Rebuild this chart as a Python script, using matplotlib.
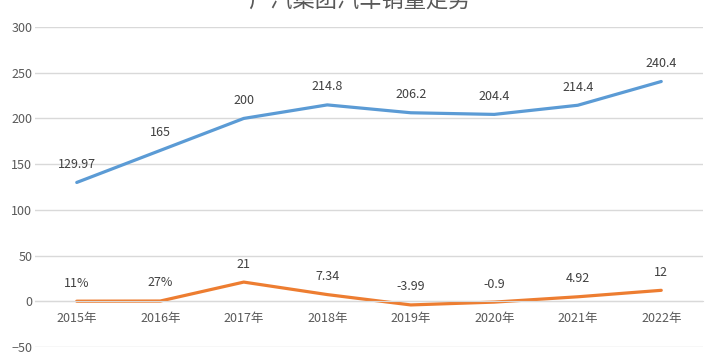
import matplotlib.pyplot as plt

plt.rcParams['font.family'] = ['Noto Sans CJK SC', 'DejaVu Sans']

# data
years = ['2015年', '2016年', '2017年', '2018年', '2019年', '2020年', '2021年', '2022年']
sales = [129.97, 165, 200, 214.8, 206.2, 204.4, 214.4, 240.4]
growth = [0.11, 0.27, 21, 7.34, -3.99, -0.9, 4.92, 12]
sales_labels = ['129.97', '165', '200', '214.8', '206.2', '204.4', '214.4', '240.4']
growth_labels = ['11%', '27%', '21', '7.34', '-3.99', '-0.9', '4.92', '12']
title = '广汽集团汽车销量走势'

fig = plt.figure(figsize=(7.18, 3.63), dpi=100)
ax = fig.add_axes([35/718, 16/363, 668/718, 320/363])

x = range(len(years))
ax.plot(x, sales, color='#5B9BD5', lw=2.3, solid_capstyle='round')
ax.plot(x, growth, color='#ED7D31', lw=2.3, solid_capstyle='round')

for xi, v, s in zip(x, sales, sales_labels):
    ax.annotate(s, (xi, v), xytext=(0, 13), textcoords='offset points',
                ha='center', va='center', fontsize=9, color='#404040')
for xi, v, s in zip(x, growth, growth_labels):
    ax.annotate(s, (xi, v), xytext=(0, 13), textcoords='offset points',
                ha='center', va='center', fontsize=9, color='#404040')

ax.set_xlim(-0.5, 7.5)
ax.set_ylim(-50, 300)
ax.set_yticks(range(-50, 301, 50))
ax.grid(axis='y', color='#D9D9D9', lw=1)
ax.set_axisbelow(True)
for sp in ['top', 'right', 'left']:
    ax.spines[sp].set_visible(False)
ax.spines['bottom'].set_position(('data', 0))
ax.spines['bottom'].set_color('#D9D9D9')
ax.set_xticks(list(x))
ax.set_xticklabels(years)
ax.tick_params(axis='both', length=0, labelsize=9, colors='#595959')
ax.tick_params(axis='x', pad=8)
ax.tick_params(axis='y', pad=2)

# titel, avkuttet i toppen som i originalen
fig.text(0.5, 1 - 13/363, title, ha='center', va='bottom', fontsize=16, color='#595959')

fig.savefig('out.png', dpi=100, facecolor='white')
